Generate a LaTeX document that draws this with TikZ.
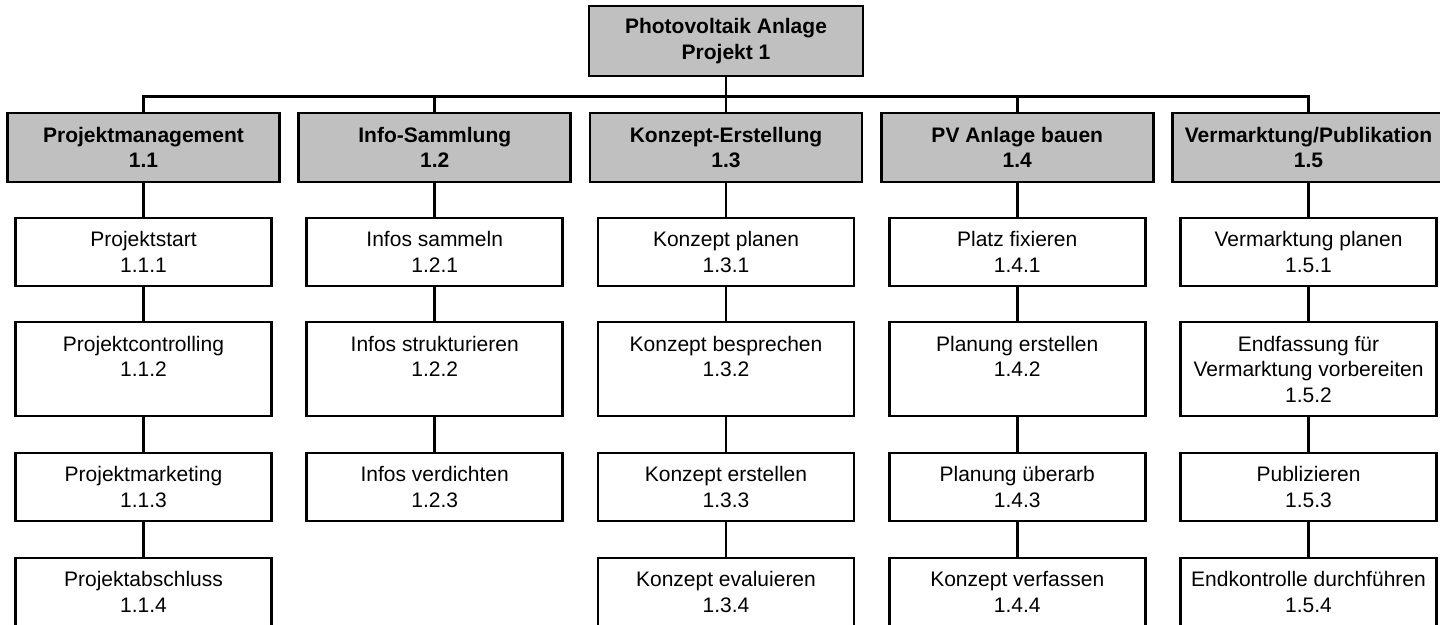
\documentclass[tikz,border=0pt]{standalone}
\usepackage{fontspec}
\setmainfont{Liberation Sans}
\usetikzlibrary{shapes}
\definecolor{headgray}{RGB}{192,192,192}
\tikzset{
headbox/.style={
	  draw, fill=headgray, rectangle, align=center, inner sep=2pt,
	    font=\fontsize{21}{25.5}\selectfont\bfseries,
    minimum width=272pt, minimum height=69pt},
taskbox/.style={
	  draw, fill=white, rectangle, align=center, inner sep=2pt,
	    font=\fontsize{21}{25.5}\selectfont,
    minimum width=256pt, minimum height=68pt},
tallbox/.style={taskbox, minimum height=94pt}
}

\begin{document}
\begin{tikzpicture}[line width=2.6pt,
	level 1/.style={sibling distance=291.25pt, level distance=106.5pt,
	edge from parent path={(\tikzparentnode.south) -- ++(0,-19pt) -| (\tikzchildnode.north)}},
	level 2/.style={level distance=104.5pt,
	edge from parent path={(\tikzparentnode.south) -- (\tikzchildnode.north)}},
	level 3/.style={level distance=117pt},
	level 4/.style={level distance=118pt},
	level 5/.style={level distance=105pt}]
	\useasboundingbox (0,0) rectangle (1440pt,-624pt);
	\node[headbox, minimum width=274pt, minimum height=70pt] (projekt) at (726pt,-41pt) {Photovoltaik Anlage\\Projekt 1}
	child{ node[headbox] (pm) {Projektmanagement\\1.1}
		child{ node[taskbox] (pm1) {Projektstart\\1.1.1}
			child{ node[tallbox] (pm2) {Projektcontrolling\\1.1.2\\~}
				child{ node[taskbox] (pm3) {Projektmarketing\\1.1.3}
					child{ node[taskbox] (pm4) {Projektabschluss\\1.1.4} }}}}
	}
	child{ node[headbox] (info) {Info-Sammlung\\1.2}
		child{ node[taskbox] (info1) {Infos sammeln\\1.2.1}
			child{ node[tallbox] (info2) {Infos strukturieren\\1.2.2\\~}
				child{ node[taskbox] (info3) {Infos verdichten\\1.2.3} }}}
	}
	child{ node[headbox] (konzept) {Konzept-Erstellung\\1.3}
		child{ node[taskbox] (konzept1) {Konzept planen\\1.3.1}
			child{ node[tallbox] (konzept2) {Konzept besprechen\\1.3.2\\~}
				child{ node[taskbox] (konzept3) {Konzept erstellen\\1.3.3}
					child{ node[taskbox] (konzept4) {Konzept evaluieren\\1.3.4} }}}}
	}
	child{ node[headbox] (bau) {PV Anlage bauen\\1.4}
		child{ node[taskbox] (bau1) {Platz fixieren\\1.4.1}
			child{ node[tallbox] (bau2) {Planung erstellen\\1.4.2\\~}
				child{ node[taskbox] (bau3) {Planung überarb\\1.4.3}
					child{ node[taskbox] (bau4) {Konzept verfassen\\1.4.4} }}}}
	}
	child{ node[headbox] (vermarktung) {Vermarktung/Publikation\\1.5}
		child{ node[taskbox] (vermarktung1) {Vermarktung planen\\1.5.1}
			child{ node[tallbox] (vermarktung2) {Endfassung für\\Vermarktung vorbereiten\\1.5.2}
				child{ node[taskbox] (vermarktung3) {Publizieren\\1.5.3}
					child{ node[taskbox] (vermarktung4) {Endkontrolle durchführen\\1.5.4} }}}}
	};

\end{tikzpicture}
\end{document}
